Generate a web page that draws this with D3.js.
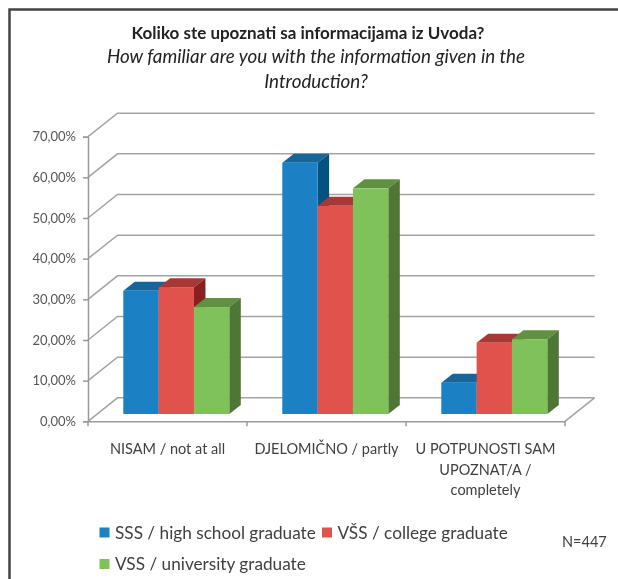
<!DOCTYPE html>
<html>
<head>
<meta charset="utf-8">
<script src="https://cdn.jsdelivr.net/npm/d3@7"></script>
<style>
  html, body { margin: 0; padding: 0; background: #fff; }
  svg { display: block; font-family: Lato, "Open Sans", sans-serif; filter: blur(0.45px); }
</style>
</head>
<body>
<div id="chart"></div>
<script>
var categories = ["NISAM / not at all", "DJELOMIČNO / partly", "U POTPUNOSTI SAM UPOZNAT/A / completely"];
var seriesNames = ["SSS / high school graduate", "VŠS / college graduate", "VSS / university graduate"];
var sss = [30.3, 61.8, 7.7];
var vss1 = [31.2, 51.2, 17.5];
var vss2 = [26.3, 55.5, 18.4];
var yTicks = [0, 10, 20, 30, 40, 50, 60, 70];

var front = ["#1b81c4", "#e2524d", "#7fc25a"];
var top3d = ["#16659b", "#a83735", "#5f9140"];
var side = ["#03527f", "#8a1f22", "#4e7634"];

var width = 618, height = 579;
var depth = {x: 29.5, y: -23.5};   // floor depth
var shift = {x: 8.8, y: -7.3};     // bars stand in the middle of the floor
var barDepth = {x: 11.5, y: -9};

var svg = d3.select("#chart").append("svg")
  .attr("width", width)
  .attr("height", height);

// frame
svg.append("path")
  .attr("d", d3.line()([[9.5, 579], [9.5, 9.5], [618, 9.5]]))
  .style("fill", "none")
  .style("stroke", "#444444")
  .style("stroke-width", 2.5);

var x = d3.scaleBand()
  .domain(categories)
  .range([88, 565]);

var y = d3.scaleLinear()
  .domain([0, 70])
  .range([421.3, 136.7]);

var xBar = d3.scaleBand()
  .domain(d3.range(3))
  .range([0, x.bandwidth()])
  .paddingInner(0)
  .paddingOuter(0.75);

var grid = svg.append("g");

// back wall lines and the slanted bits on the side wall
yTicks.forEach(function(t) {
  grid.append("path")
    .attr("d", d3.line()([
      [88, y(t)],
      [88 + depth.x, y(t) + depth.y],
      [565 + depth.x, y(t) + depth.y]
    ]))
    .style("fill", "none")
    .style("stroke", "#a3a3a3")
    .style("stroke-width", 1.5);
});

// floor edge on the right
grid.append("line")
  .attr("x1", 565).attr("y1", y(0))
  .attr("x2", 565 + depth.x).attr("y2", y(0) + depth.y)
  .style("stroke", "#a3a3a3")
  .style("stroke-width", 1.5);

var yAxis = svg.append("g")
  .attr("transform", "translate(88,0)")
  .call(d3.axisLeft(y)
    .tickValues(yTicks)
    .tickSize(5)
    .tickFormat(function(d) { return d.toFixed(2).replace(".", ",") + "%"; }));

var xAxis = svg.append("g")
  .attr("transform", "translate(0," + y(0) + ")")
  .call(d3.axisBottom(x).tickSize(0).tickFormat(""));

xAxis.selectAll(".xtick")
  .data([88].concat(categories.map(function(c) { return x(c) + x.bandwidth(); })))
  .enter()
  .append("line")
  .attr("class", "xtick")
  .attr("x1", function(d) { return d; })
  .attr("x2", function(d) { return d; })
  .attr("y1", 0)
  .attr("y2", 5);

svg.selectAll(".domain, .tick line, .xtick")
  .style("stroke", "#9a9a9a")
  .style("stroke-width", 1.5);

yAxis.selectAll("text")
  .attr("x", -12)
  .style("font-size", "13px")
  .style("font-family", "Lato, sans-serif")
  .style("fill", "#555555");

// bars, drawn left to right so the next bar covers the previous side face
var bars = [];
categories.forEach(function(c, i) {
  [sss, vss1, vss2].forEach(function(values, s) {
    bars.push({cat: c, s: s, value: values[i]});
  });
});

var bar = svg.selectAll(".bar")
  .data(bars).enter()
  .append("g")
  .attr("class", "bar")
  .attr("transform", "translate(" + shift.x + "," + shift.y + ")");

function barX(d) { return x(d.cat) + xBar(d.s); }

bar.append("path")
  .style("fill", function(d) { return top3d[d.s]; })
  .attr("d", function(d) {
    var x0 = barX(d), x1 = x0 + xBar.bandwidth(), t = y(d.value);
    return d3.line()([[x0, t], [x0 + barDepth.x, t + barDepth.y], [x1 + barDepth.x, t + barDepth.y], [x1, t]]) + "Z";
  });

bar.append("path")
  .style("fill", function(d) { return side[d.s]; })
  .attr("d", function(d) {
    var x1 = barX(d) + xBar.bandwidth(), t = y(d.value), b = y(0);
    return d3.line()([[x1, t], [x1 + barDepth.x, t + barDepth.y], [x1 + barDepth.x, b + barDepth.y], [x1, b]]) + "Z";
  });

bar.append("rect")
  .attr("x", barX)
  .attr("y", function(d) { return y(d.value); })
  .attr("width", xBar.bandwidth())
  .attr("height", function(d) { return y(0) - y(d.value); })
  .style("fill", function(d) { return front[d.s]; });

// category labels, the last one wraps in three lines
var catLines = [["NISAM / not at all"], ["DJELOMIČNO / partly"], ["U POTPUNOSTI SAM", "UPOZNAT/A /", "completely"]];

svg.selectAll(".cat")
  .data(categories).enter()
  .append("text")
  .attr("class", "cat")
  .attr("x", function(d) { return x(d) + x.bandwidth() / 2; })
  .attr("y", 454)
  .style("text-anchor", "middle")
  .style("font-size", "14.5px")
  .style("fill", "#404040")
  .selectAll("tspan")
  .data(function(d, i) { return catLines[i]; }).enter()
  .append("tspan")
  .attr("x", function() { return d3.select(this.parentNode).attr("x"); })
  .attr("dy", function(d, i) { return i ? 20.7 : 0; })
  .text(function(d) { return d; });

// title
var title = svg.append("g").style("text-anchor", "middle").style("fill", "#222222");

title.append("text")
  .attr("x", 308).attr("y", 38.5)
  .style("font-size", "17px")
  .style("font-weight", 700)
  .text("Koliko ste upoznati sa informacijama iz Uvoda?");

title.append("text")
  .attr("x", 316).attr("y", 63)
  .style("font-size", "18.8px")
  .style("font-style", "italic")
  .text("How familiar are you with the information given in the");

title.append("text")
  .attr("x", 316).attr("y", 88)
  .style("font-size", "18.8px")
  .style("font-style", "italic")
  .text("Introduction?");

// legend
var legendPos = [[99.5, 538.5], [322, 538.5], [99.5, 570]];

var legend = svg.selectAll(".legend")
  .data(seriesNames).enter()
  .append("g")
  .attr("class", "legend")
  .attr("transform", function(d, i) { return "translate(" + legendPos[i][0] + "," + legendPos[i][1] + ")"; });

legend.append("rect")
  .attr("x", 0)
  .attr("y", -11)
  .attr("width", 10)
  .attr("height", 10)
  .style("fill", function(d, i) { return front[i]; });

legend.append("text")
  .attr("x", 15.5)
  .attr("y", 0)
  .style("font-size", "17.2px")
  .style("fill", "#404040")
  .text(function(d) { return d; });

svg.append("text")
  .attr("x", 562)
  .attr("y", 547)
  .style("font-size", "14.5px")
  .style("fill", "#404040")
  .text("N=447");
</script>
</body>
</html>
